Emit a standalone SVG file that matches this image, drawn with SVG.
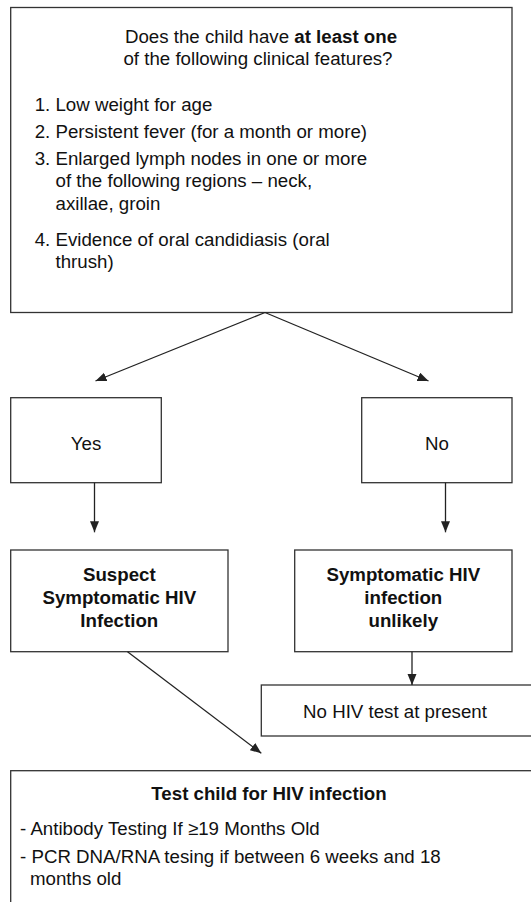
<svg xmlns="http://www.w3.org/2000/svg" width="531" height="902" viewBox="0 0 531 902">
<defs>
<style>
.box{fill:#fff;stroke:#333;stroke-width:1.3}
.t{font-family:"Liberation Sans",Arial,sans-serif;font-size:18.7px;fill:#111}
.c{text-anchor:middle}
.b{font-weight:bold}
.ln{fill:none;stroke:#222;stroke-width:1.3}
</style>
<marker id="ah" markerUnits="userSpaceOnUse" markerWidth="12" markerHeight="10" refX="11" refY="4.5" orient="auto">
<path d="M0,0 L11,4.5 L0,9 z" fill="#222"/>
</marker>
</defs>
<rect width="531" height="902" fill="#fff"/>
<g id="question">
<rect class="box" x="10.7" y="7.5" width="501.3" height="305"/>
<text class="t c" x="261" y="43">Does the child have <tspan class="b">at least one</tspan></text>
<text class="t c" x="258" y="65">of the following clinical features?</text>
<text class="t" x="34.7" y="110.5">1. Low weight for age</text>
<text class="t" x="34.7" y="137.5">2. Persistent fever (for a month or more)</text>
<text class="t" x="34.7" y="164.5">3. Enlarged lymph nodes in one or more</text>
<text class="t" x="55.5" y="187.2">of the following regions – neck,</text>
<text class="t" x="55.5" y="209.9">axillae, groin</text>
<text class="t" x="34.7" y="245.5">4. Evidence of oral candidiasis (oral</text>
<text class="t" x="55.5" y="268.2">thrush)</text>
</g>
<g id="yes">
<rect class="box" x="10.7" y="397.7" width="150.6" height="85"/>
<text class="t c" x="86" y="450">Yes</text>
</g>
<g id="no">
<rect class="box" x="361.7" y="397.7" width="150.3" height="85"/>
<text class="t c" x="437" y="450">No</text>
</g>
<g id="suspect">
<rect class="box" x="10.7" y="550" width="217.3" height="101.7"/>
<text class="t c b" x="119.3" y="581">Suspect</text>
<text class="t c b" x="119.3" y="604">Symptomatic HIV</text>
<text class="t c b" x="119.3" y="626.7">Infection</text>
</g>
<g id="unlikely">
<rect class="box" x="294.7" y="550" width="217.3" height="101.7"/>
<text class="t c b" x="403.3" y="581">Symptomatic HIV</text>
<text class="t c b" x="403.3" y="604">infection</text>
<text class="t c b" x="403.3" y="626.7">unlikely</text>
</g>
<g id="notest">
<rect class="box" x="261.3" y="685" width="280" height="51"/>
<text class="t c" x="395" y="718">No HIV test at present</text>
</g>
<g id="test">
<rect class="box" x="10.7" y="770.7" width="530" height="150"/>
<text class="t c b" x="269" y="799.5">Test child for HIV infection</text>
<text class="t" x="20" y="835">- Antibody Testing If ≥19 Months Old</text>
<text class="t" x="20" y="862.5">- PCR DNA/RNA tesing if between 6 weeks and 18</text>
<text class="t" x="30" y="885">months old</text>
</g>
<g id="connectors">
<line class="ln" x1="265" y1="312.5" x2="95.5" y2="381" marker-end="url(#ah)"/>
<line class="ln" x1="265" y1="312.5" x2="428.5" y2="381" marker-end="url(#ah)"/>
<line class="ln" x1="94.5" y1="482.7" x2="94.5" y2="532.3" marker-end="url(#ah)"/>
<line class="ln" x1="445.5" y1="482.7" x2="445.5" y2="532.3" marker-end="url(#ah)"/>
<line class="ln" x1="412" y1="651.7" x2="412" y2="685" marker-end="url(#ah)"/>
<line class="ln" x1="127.5" y1="651.7" x2="261.3" y2="753.3" marker-end="url(#ah)"/>
</g>
</svg>
